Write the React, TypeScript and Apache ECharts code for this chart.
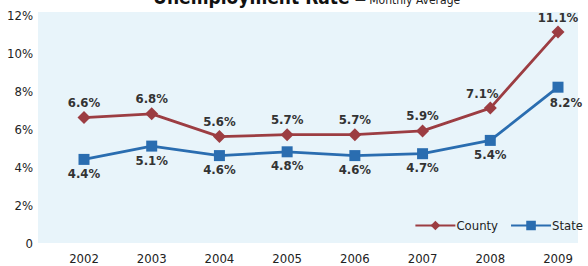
import React, { useEffect, useRef } from "react";
import * as echarts from "echarts";

const years = ["2002", "2003", "2004", "2005", "2006", "2007", "2008", "2009"];
const county = [6.6, 6.8, 5.6, 5.7, 5.7, 5.9, 7.1, 11.1];
const state = [4.4, 5.1, 4.6, 4.8, 4.6, 4.7, 5.4, 8.2];
const yTicks = [0, 2, 4, 6, 8, 10, 12];

const FONT = "'DejaVu Sans Condensed', 'Liberation Sans Narrow', 'Liberation Sans', Arial, sans-serif";
const RED = "#9c3d42";
const BLUE = "#2a6db0";

export default function App() {
  const ref = useRef<HTMLDivElement>(null);
  useEffect(() => {
    const chart = echarts.init(ref.current!, null, { renderer: "svg" });
    const countyData = county.map((v, i) => {
      const item: any = { value: v };
      if (i === 6) item.label = { position: "top", offset: [-8, 0] };
      return item;
    });
    const stateData = state.map((v, i) => {
      const item: any = { value: v };
      if (i === 7) item.label = { position: "bottom", offset: [8, 1] };
      return item;
    });
    const labelBase = {
      show: true,
      distance: 2,
      formatter: (p: any) => `${p.value}%`,
      fontFamily: FONT,
      fontSize: 13,
      fontWeight: "bold",
      color: "#333",
    };
    chart.setOption({
      animation: false,
      backgroundColor: "#ffffff",
      graphic: [
        {
          type: "rect",
          z: -10,
          shape: { x: 38, y: 12, width: 540, height: 231 },
          style: { fill: "#e8f4fa" },
          silent: true,
        },
        {
          type: "text",
          x: 153,
          y: -13,
          style: {
            text: "Unemployment Rate",
            font: `bold 19px ${FONT}`,
            fill: "#111",
          },
        },
        {
          type: "text",
          x: 355,
          y: -6,
          style: {
            text: "— Monthly Average",
            font: `12px ${FONT}`,
            fill: "#222",
          },
        },
      ],
      grid: { left: 84, right: 30, top: 15, bottom: 23, containLabel: false },
      legend: {
        right: 0,
        top: 214,
        itemWidth: 40,
        itemHeight: 12,
        itemGap: 12,
        textStyle: { fontFamily: FONT, fontSize: 13, color: "#222", padding: [0, 0, 0, -4] },
        data: ["County", "State"],
      },
      xAxis: {
        type: "category",
        data: years,
        boundaryGap: false,
        axisLine: { show: false },
        axisTick: { show: false },
        axisLabel: { fontFamily: FONT, fontSize: 13, color: "#222", margin: 9 },
      },
      yAxis: {
        type: "value",
        min: 0,
        max: 12,
        interval: 2,
        splitLine: { show: false },
        axisLine: { show: false },
        axisTick: { show: false },
        axisLabel: {
          fontFamily: FONT,
          fontSize: 13,
          color: "#222",
          margin: 51,
          formatter: (v: number) => (v === 0 ? "0" : yTicks.includes(v) ? `${v}%` : ""),
        },
      },
      series: [
        {
          name: "County",
          type: "line",
          data: countyData,
          symbol: "diamond",
          symbolSize: 13,
          color: RED,
          lineStyle: { color: RED, width: 2.8 },
          itemStyle: { color: RED },
          label: { ...labelBase, position: "top" },
        },
        {
          name: "State",
          type: "line",
          data: stateData,
          symbol: "rect",
          symbolSize: 11,
          color: BLUE,
          lineStyle: { color: BLUE, width: 2.8 },
          itemStyle: { color: BLUE },
          label: { ...labelBase, position: "bottom" },
        },
      ],
    });
    return () => chart.dispose();
  }, []);
  return <div ref={ref} style={{ width: 588, height: 266, position: "absolute", left: 0, top: 0 }} />;
}
